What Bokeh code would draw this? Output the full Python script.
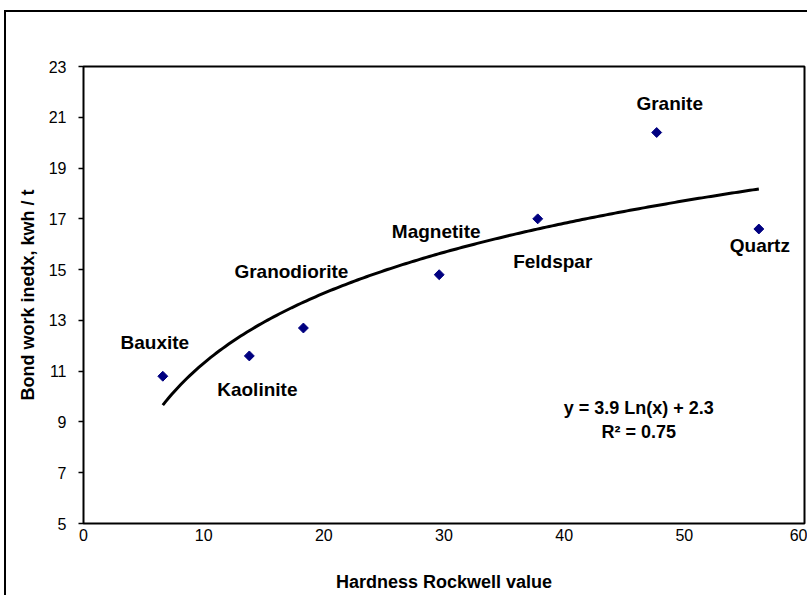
import numpy as np
from bokeh.plotting import figure
from bokeh.models import ColumnDataSource, Label, FixedTicker
from bokeh.core.properties import value
from bokeh.embed import file_html
from bokeh.resources import INLINE

# ---- data ----
minerals = ["Bauxite", "Kaolinite", "Granodiorite", "Magnetite", "Feldspar", "Granite", "Quartz"]
hardness = [6.6, 13.8, 18.3, 29.6, 37.8, 47.7, 56.2]
bond_wi = [10.8, 11.6, 12.7, 14.8, 17.0, 20.4, 16.6]
x_ticks = [0, 10, 20, 30, 40, 50, 60]
y_ticks = [5, 7, 9, 11, 13, 15, 17, 19, 21, 23]
equation_text = "y = 3.9 Ln(x) + 2.3"
r2_text = "R² = 0.75"

# label offsets (pixels) for each mineral name
label_dx = [-8, 8, -12, -3, 15, 13, 1]
label_dy = [-34, 34, -57, -43, 43, -29, 17]

FONT = "Liberation Sans"

# logarithmic trend line fitted to the data
lx = np.log(np.array(hardness))
slope, intercept = np.polyfit(lx, np.array(bond_wi), 1)
xf = np.linspace(min(hardness), max(hardness), 200)
yf = slope * np.log(xf) + intercept

p = figure(width=803, height=585, x_range=(0, 60), y_range=(5, 23),
           output_backend="svg", toolbar_location=None,
           min_border_left=77, min_border_right=5, min_border_top=54, min_border_bottom=74)
p.margin = (10, 0, 0, 4)
p.styles = {"border-left": "2px solid black", "border-top": "2px solid black"}
p.background_fill_color = "white"
p.border_fill_color = "white"
p.outline_line_color = "black"
p.outline_line_width = 2
p.xgrid.visible = False
p.ygrid.visible = False

p.line(xf, yf, line_color="black", line_width=3)

src = ColumnDataSource(dict(x=hardness, y=bond_wi, name=minerals, dx=label_dx, dy=label_dy))
p.scatter("x", "y", source=src, marker="square", size=7, angle=np.pi / 4,
          fill_color="#000080", line_color="#000080")
p.text("x", "y", text="name", source=src, x_offset="dx", y_offset="dy",
       text_align="center", text_baseline="middle",
       text_font=value(FONT), text_font_style="bold", text_font_size="19px",
       text_color="black")

p.add_layout(Label(x=46.2, y=9.55, text=equation_text, text_align="center",
                   text_baseline="middle", text_font=FONT, text_font_style="bold",
                   text_font_size="18px", text_color="black"))
p.add_layout(Label(x=46.2, y=8.6, text=r2_text, text_align="center",
                   text_baseline="middle", text_font=FONT, text_font_style="bold",
                   text_font_size="18px", text_color="black"))

for ax in (p.xaxis[0], p.yaxis[0]):
    ax.axis_line_color = None
    ax.major_tick_line_color = "black"
    ax.minor_tick_line_color = None
    ax.major_label_text_font = FONT
    ax.major_label_text_font_size = "16px"
    ax.major_label_text_color = "black"
    ax.axis_label_text_font = FONT
    ax.axis_label_text_font_style = "bold"
    ax.axis_label_text_font_size = "18px"
    ax.axis_label_text_color = "black"

p.xaxis.ticker = FixedTicker(ticks=x_ticks)
p.yaxis.ticker = FixedTicker(ticks=y_ticks)
p.xaxis.major_tick_out = 0
p.xaxis.major_tick_in = 0
p.xaxis.major_label_standoff = 5
p.xaxis.axis_label = "Hardness Rockwell value"
p.xaxis.axis_label_standoff = 28
p.yaxis.major_tick_out = 5
p.yaxis.major_tick_in = 0
p.yaxis.major_tick_line_width = 1.5
p.yaxis.major_label_standoff = 12
p.yaxis.axis_label = "Bond work inedx, kwh / t"
p.yaxis.axis_label_standoff = 8

open("out.html", "w").write(file_html(p, INLINE))
